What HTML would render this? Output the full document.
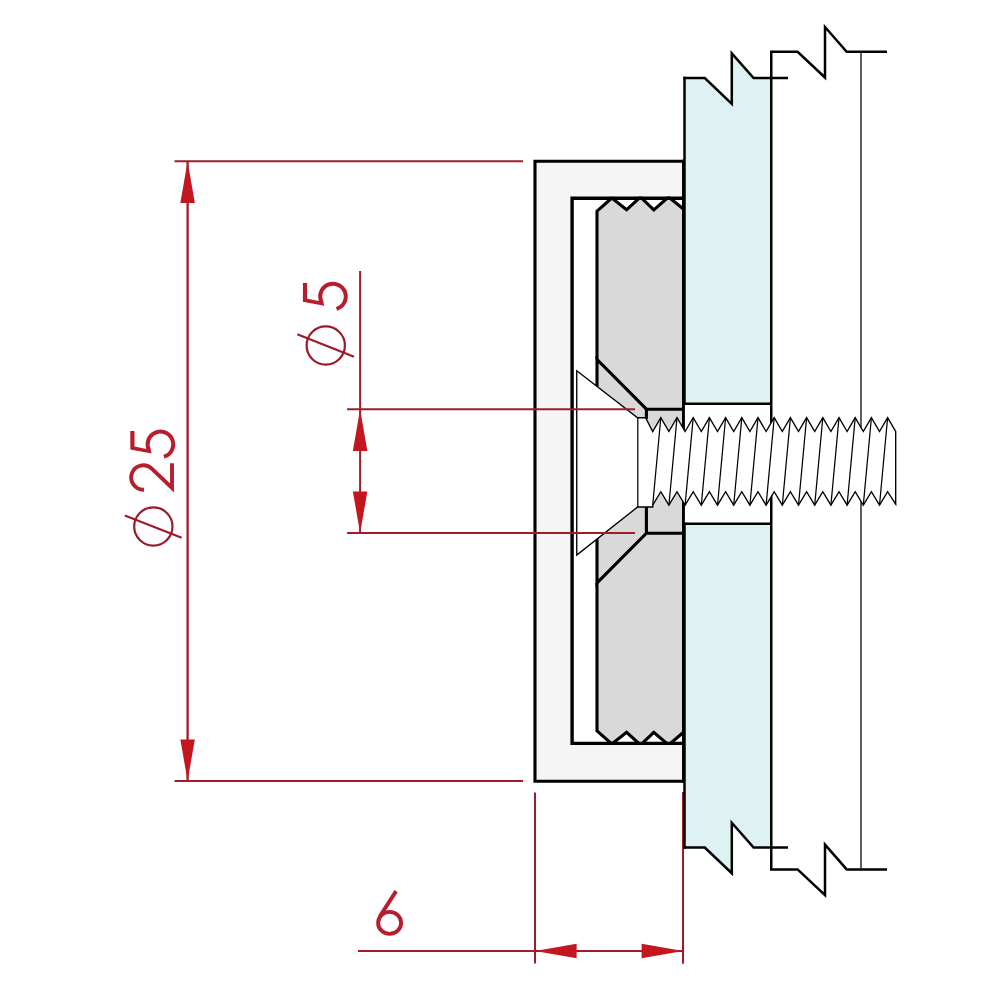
<!DOCTYPE html>
<html><head><meta charset="utf-8">
<style>
html,body{margin:0;padding:0;background:#fff;}
body{width:1000px;height:1000px;overflow:hidden;font-family:"Liberation Sans",sans-serif;}
svg{display:block;}
</style></head><body>
<svg width="1000" height="1000" viewBox="0 0 1000 1000">
<rect width="1000" height="1000" fill="#ffffff"/>
<defs>
  <g id="g5" fill="#b81d2c" stroke="none">
    <path d="M13.4,-30.1 L-5.2,-30.1 L-9.2,-8.8 L-4.59,-9.78 A10.8,10.8 0 1 1 -10.38,2.98 L-14.22,4.08 A14.8,14.8 0 1 0 -4.56,-14.08 L-2.2,-25.9 L13.4,-25.9 Z"/>
  </g>
  <g id="g2" fill="none" stroke="#b81d2c" stroke-width="3.9" stroke-linejoin="miter" stroke-miterlimit="6">
    <path d="M2.72,-29.96 A12.2,12.2 0 1 1 23.77,-22.19 L4.56,-1.95 L29.15,-1.95"/>
  </g>
  <g id="gd" fill="none" stroke="#9c1b2b" stroke-width="2.2">
    <circle cx="0" cy="0" r="19.15"/>
    <path d="M11.1,-28.5 L-11.2,28.3"/>
  </g>
  <clipPath id="cpin"><rect x="560" y="196.5" width="140" height="548.6"/></clipPath>
  <path id="arr" d="M0,0 L7.25,41.6 L-7.25,41.6 Z" fill="#c4161f"/>
</defs>

<!-- glass -->
<path d="M684.25,78.1 L704.8,78.1 L731.8,103.85 L731.8,53.35 L753.6,78.1 L771.25,78.1 L771.25,403.75 L684.25,403.75 Z" fill="#def2f4"/>
<path d="M684.25,523.75 L771.25,523.75 L771.25,847.5 L753.6,847.5 L731.8,822.75 L731.8,873.25 L704.8,847.5 L684.25,847.5 Z" fill="#def2f4"/>

<!-- cap -->
<rect x="535" y="161" width="148.75" height="620" fill="#f5f5f6"/>
<rect x="572.1" y="198.2" width="111.65" height="545.2" fill="#ffffff"/>
<!-- grey block -->
<path d="M597,211.2 L611.8,198 L626.6,209.8 L640.4,197 L653.8,209.8 L668.5,197 L683.75,209.3 L683.75,732 L668.6,745 L653.75,732.4 L640.5,745 L626.6,732.4 L611.8,744 L597,730.9 Z" fill="#d9d9da"/>

<g fill="none" stroke="#000" stroke-width="3.1" stroke-linejoin="miter" stroke-linecap="butt">
  <!-- grey block outline -->
  <g clip-path="url(#cpin)"><path d="M597,359.5 L597,211.2 L611.8,198 L626.6,209.8 L640.4,197 L653.8,209.8 L668.5,197 L683.75,209.3"/>
  <path d="M597,582.9 L597,730.9 L611.8,744 L626.6,732.4 L640.5,745 L653.75,732.4 L668.6,745 L683.75,732"/></g>
  <path d="M597,394 L597,359.5 L646.4,409.2 L684,409.2"/>
  <path d="M597,532 L597,582.9 L646.4,533.2 L684,533.2"/>
  <path d="M646.4,409.2 L646.4,419"/>
  <path d="M646.4,533.2 L646.4,506"/>
  <!-- inner rect -->
  <path d="M683.75,198.2 L572.1,198.2 L572.1,743.4 L683.75,743.4" stroke-width="3.4"/>
  <!-- outer rect -->
  <path d="M683.75,161.25 L535,161.25 L535,781.2 L683.75,781.2"/>
  <path d="M683.45,159.7 L683.45,782.75" stroke-width="2.9"/>
</g>

<path d="M683.0,792 L683.0,963.7" fill="none" stroke="#a11c2b" stroke-width="2"/>
<!-- glass lines -->
<g fill="none" stroke="#000" stroke-width="2.5" stroke-linejoin="miter">
  <path d="M684.5,76.85 L684.5,405 M684.5,522.5 L684.5,848.75"/>
  <path d="M683.25,78.1 L704.8,78.1 L731.8,103.85 L731.8,53.35 L753.6,78.1 L788,78.1"/>
  <path d="M683.25,847.5 L704.8,847.5 L731.8,873.25 L731.8,822.75 L753.6,847.5 L788,847.5"/>
  <path d="M771.25,869.4 L771.25,51.75"/>
  <path d="M770,51.75 L797.6,51.75 L825,77.5 L825,27 L846.7,51.75 L887,51.75"/>
  <path d="M770,869.4 L797.6,869.4 L825,895.15 L825,844.65 L846.7,869.4 L887,869.4"/>
  <path d="M684.25,403.75 L771.25,403.75"/>
  <path d="M684.25,523.75 L771.25,523.75"/>
</g>
<path d="M861,52 L861,869.5" stroke="#1a1a1a" stroke-width="1.4" fill="none"/>

<!-- screw -->
<path d="M576.75,370.75 L637.60,417.70 L645.60,417.70 L652.70,431.50 L660.80,417.70 L668.90,431.50 L677.00,417.70 L685.10,431.50 L693.20,417.70 L701.30,431.50 L709.40,417.70 L717.50,431.50 L725.60,417.70 L733.70,431.50 L741.80,417.70 L749.90,431.50 L758.00,417.70 L766.10,431.50 L774.20,417.70 L782.30,431.50 L790.40,417.70 L798.50,431.50 L806.60,417.70 L814.70,431.50 L822.80,417.70 L830.90,431.50 L839.00,417.70 L847.10,431.50 L855.20,417.70 L863.30,431.50 L871.40,417.70 L879.50,431.50 L887.60,417.70 L895.70,431.50 L895.70,504.20 L887.60,491.70 L879.50,505.20 L871.40,491.70 L863.30,505.20 L855.20,491.70 L847.10,505.20 L839.00,491.70 L830.90,505.20 L822.80,491.70 L814.70,505.20 L806.60,491.70 L798.50,505.20 L790.40,491.70 L782.30,505.20 L774.20,491.70 L766.10,505.20 L758.00,491.70 L749.90,505.20 L741.80,491.70 L733.70,505.20 L725.60,491.70 L717.50,505.20 L709.40,491.70 L701.30,505.20 L693.20,491.70 L685.10,505.20 L677.00,491.70 L668.90,505.20 L660.80,491.70 L652.70,505.20 L652.80,507.00 L637.60,507.00 L576.75,555.00 Z" fill="#ffffff" stroke="#000" stroke-width="1.35" stroke-linejoin="miter"/>
<path d="M637.8,417.5 L637.8,507 M887.60,417.7 L879.50,505.2 M871.40,417.7 L863.30,505.2 M855.20,417.7 L847.10,505.2 M839.00,417.7 L830.90,505.2 M822.80,417.7 L814.70,505.2 M806.60,417.7 L798.50,505.2 M790.40,417.7 L782.30,505.2 M774.20,417.7 L766.10,505.2 M758.00,417.7 L749.90,505.2 M741.80,417.7 L733.70,505.2 M725.60,417.7 L717.50,505.2 M709.40,417.7 L701.30,505.2 M693.20,417.7 L685.10,505.2 M677.00,417.7 L668.90,505.2 M660.80,417.7 L652.70,505.2" fill="none" stroke="#000" stroke-width="1.25"/>

<!-- red dimension lines -->
<g fill="none" stroke="#a11c2b" stroke-width="2">
  <path d="M174.5,161.25 L523,161.25"/>
  <path d="M174.5,781.1 L523,781.1"/>
  <path d="M187.6,161 L187.6,781" stroke-width="2.3"/>
  <path d="M347.1,409.3 L635,409.3"/>
  <path d="M347.1,533.1 L635,533.1"/>
  <path d="M360.1,271 L360.1,533"/>
  <path d="M535,792.5 L535,963.6"/>
  <path d="M358,950.9 L683,950.9"/>
</g>
<!-- arrows -->
<use href="#arr" transform="translate(187.6,161.3)"/>
<use href="#arr" transform="translate(187.6,781) rotate(180)"/>
<use href="#arr" transform="translate(360.1,409.3)"/>
<use href="#arr" transform="translate(360.1,533) rotate(180)"/>
<use href="#arr" transform="translate(535,950.9) rotate(-90)"/>
<use href="#arr" transform="translate(683.2,950.9) rotate(90)"/>

<!-- text: 6 -->
<g fill="none" stroke="#b81d2c" stroke-width="3.85">
  <ellipse cx="389.6" cy="922.9" rx="11.5" ry="11.0"/>
  <path d="M396.1,891.1 L379.75,916.65"/>
</g>
<!-- text: O25 rotated -->
<g transform="translate(173.95,492.4) rotate(-90)">
  <use href="#g2"/>
  <use href="#g5" transform="translate(48.0,-13.55)"/>
  <use href="#gd" transform="translate(-34.1,-20.6)"/>
</g>
<!-- text: O5 rotated -->
<g transform="translate(333.0,296.5) rotate(-90)">
  <use href="#g5"/>
  <use href="#gd" transform="translate(-48.95,-7.24)"/>
</g>
</svg>
</body></html>
